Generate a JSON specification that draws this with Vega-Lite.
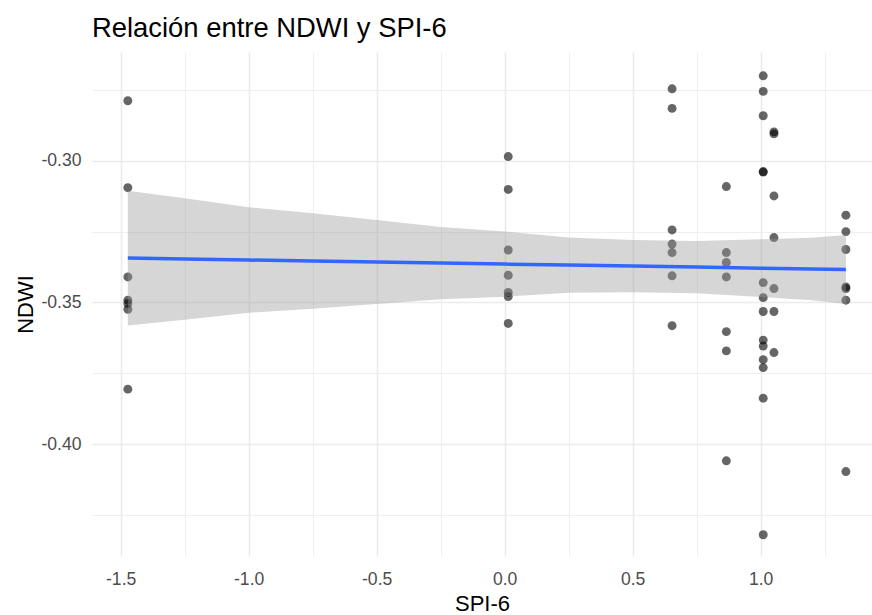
{
  "$schema": "https://vega.github.io/schema/vega-lite/v6.json",
  "width": 780,
  "height": 504,
  "autosize": {"type": "none"},
  "padding": {"left": 92, "top": 52, "right": 0, "bottom": 59},
  "background": "white",
  "title": {
    "text": "Relación entre NDWI y SPI-6",
    "anchor": "start",
    "frame": "group",
    "font": "Liberation Sans",
    "fontSize": 27.4,
    "fontWeight": "normal",
    "color": "#000000",
    "baseline": "alphabetic",
    "offset": -12
  },
  "config": {
    "view": {"stroke": null},
    "axis": {
      "domain": false,
      "ticks": false,
      "tickSize": 0,
      "labelFont": "Liberation Sans",
      "labelFontSize": 17.6,
      "labelColor": "#4d4d4d",
      "titleFont": "Liberation Sans",
      "titleFontSize": 22,
      "titleFontWeight": "normal",
      "titleColor": "#000000",
      "gridColor": "#ebebeb",
      "labelOverlap": false
    }
  },
  "datasets": {
    "puntos": [
      {"spi": -1.472, "ndwi": -0.2788},
      {"spi": -1.472, "ndwi": -0.3095},
      {"spi": -1.472, "ndwi": -0.3410},
      {"spi": -1.472, "ndwi": -0.3492},
      {"spi": -1.472, "ndwi": -0.3504},
      {"spi": -1.472, "ndwi": -0.3524},
      {"spi": -1.472, "ndwi": -0.3806},
      {"spi": 0.014, "ndwi": -0.2985},
      {"spi": 0.014, "ndwi": -0.3101},
      {"spi": 0.014, "ndwi": -0.3315},
      {"spi": 0.014, "ndwi": -0.3404},
      {"spi": 0.014, "ndwi": -0.3465},
      {"spi": 0.014, "ndwi": -0.3479},
      {"spi": 0.014, "ndwi": -0.3574},
      {"spi": 0.654, "ndwi": -0.2746},
      {"spi": 0.654, "ndwi": -0.2815},
      {"spi": 0.654, "ndwi": -0.3244},
      {"spi": 0.654, "ndwi": -0.3294},
      {"spi": 0.654, "ndwi": -0.3324},
      {"spi": 0.654, "ndwi": -0.3406},
      {"spi": 0.654, "ndwi": -0.3582},
      {"spi": 0.866, "ndwi": -0.3091},
      {"spi": 0.866, "ndwi": -0.3324},
      {"spi": 0.866, "ndwi": -0.3359},
      {"spi": 0.866, "ndwi": -0.3410},
      {"spi": 0.866, "ndwi": -0.3603},
      {"spi": 0.866, "ndwi": -0.3671},
      {"spi": 0.866, "ndwi": -0.4059},
      {"spi": 1.010, "ndwi": -0.2700},
      {"spi": 1.010, "ndwi": -0.2755},
      {"spi": 1.010, "ndwi": -0.2841},
      {"spi": 1.010, "ndwi": -0.3038},
      {"spi": 1.010, "ndwi": -0.3040},
      {"spi": 1.010, "ndwi": -0.3430},
      {"spi": 1.010, "ndwi": -0.3483},
      {"spi": 1.010, "ndwi": -0.3532},
      {"spi": 1.010, "ndwi": -0.3633},
      {"spi": 1.010, "ndwi": -0.3654},
      {"spi": 1.010, "ndwi": -0.3702},
      {"spi": 1.010, "ndwi": -0.3730},
      {"spi": 1.010, "ndwi": -0.3838},
      {"spi": 1.010, "ndwi": -0.4320},
      {"spi": 1.052, "ndwi": -0.2898},
      {"spi": 1.052, "ndwi": -0.2905},
      {"spi": 1.052, "ndwi": -0.3124},
      {"spi": 1.052, "ndwi": -0.3271},
      {"spi": 1.052, "ndwi": -0.3451},
      {"spi": 1.052, "ndwi": -0.3532},
      {"spi": 1.052, "ndwi": -0.3677},
      {"spi": 1.333, "ndwi": -0.3192},
      {"spi": 1.333, "ndwi": -0.3250},
      {"spi": 1.333, "ndwi": -0.3313},
      {"spi": 1.333, "ndwi": -0.3445},
      {"spi": 1.333, "ndwi": -0.3451},
      {"spi": 1.333, "ndwi": -0.3492},
      {"spi": 1.333, "ndwi": -0.4097}
    ],
    "ajuste": [
      {"spi": -1.472, "fit": -0.33435, "lo": -0.35815, "hi": -0.31055},
      {"spi": -1.25, "fit": -0.33467, "lo": -0.35613, "hi": -0.31321},
      {"spi": -1.0, "fit": -0.33503, "lo": -0.35363, "hi": -0.31643},
      {"spi": -0.75, "fit": -0.33539, "lo": -0.35223, "hi": -0.31855},
      {"spi": -0.5, "fit": -0.33574, "lo": -0.35054, "hi": -0.32094},
      {"spi": -0.25, "fit": -0.3361, "lo": -0.34883, "hi": -0.32337},
      {"spi": 0.0, "fit": -0.33646, "lo": -0.34796, "hi": -0.32496},
      {"spi": 0.25, "fit": -0.33682, "lo": -0.3466, "hi": -0.32704},
      {"spi": 0.5, "fit": -0.33718, "lo": -0.34638, "hi": -0.32798},
      {"spi": 0.75, "fit": -0.33753, "lo": -0.34673, "hi": -0.32833},
      {"spi": 1.0, "fit": -0.33789, "lo": -0.34809, "hi": -0.32769},
      {"spi": 1.2, "fit": -0.33818, "lo": -0.34922, "hi": -0.32714},
      {"spi": 1.333, "fit": -0.33837, "lo": -0.35057, "hi": -0.32617}
    ]
  },
  "layer": [
    {
      "data": {"name": "puntos"},
      "mark": {"type": "point", "shape": "circle", "filled": true, "color": "#000000", "opacity": 0.6, "size": 80, "strokeWidth": 0},
      "encoding": {
        "x": {
          "field": "spi",
          "type": "quantitative",
          "title": "SPI-6",
          "scale": {"domain": [-1.612, 1.435], "nice": false, "zero": false},
          "axis": {
            "values": [-1.5, -1.25, -1, -0.75, -0.5, -0.25, 0, 0.25, 0.5, 0.75, 1, 1.25],
            "labelExpr": "abs(datum.value * 2 - round(datum.value * 2)) < 1e-6 ? replace(format(datum.value, '.1f'), '\u2212', '-') : ''",
            "gridWidth": {"condition": {"test": "abs(datum.value * 2 - round(datum.value * 2)) < 1e-6", "value": 1.6}, "value": 0.8},
            "labelPadding": 14,
            "titlePadding": 6
          }
        },
        "y": {
          "field": "ndwi",
          "type": "quantitative",
          "title": "NDWI",
          "scale": {"domain": [-0.4395, -0.2616], "nice": false, "zero": false},
          "axis": {
            "values": [-0.425, -0.4, -0.375, -0.35, -0.325, -0.3, -0.275],
            "labelExpr": "abs(datum.value * 20 - round(datum.value * 20)) < 1e-6 ? replace(format(datum.value, '.2f'), '\u2212', '-') : ''",
            "gridWidth": {"condition": {"test": "abs(datum.value * 20 - round(datum.value * 20)) < 1e-6", "value": 1.6}, "value": 0.8},
            "labelPadding": 11,
            "titlePadding": 3
          }
        }
      }
    },
    {
      "data": {"name": "ajuste"},
      "mark": {"type": "area", "color": "#999999", "opacity": 0.4},
      "encoding": {
        "x": {"field": "spi", "type": "quantitative"},
        "y": {"field": "lo", "type": "quantitative"},
        "y2": {"field": "hi"}
      }
    },
    {
      "data": {"name": "ajuste"},
      "mark": {"type": "line", "color": "#3366FF", "strokeWidth": 3.5},
      "encoding": {
        "x": {"field": "spi", "type": "quantitative"},
        "y": {"field": "fit", "type": "quantitative"}
      }
    }
  ]
}
